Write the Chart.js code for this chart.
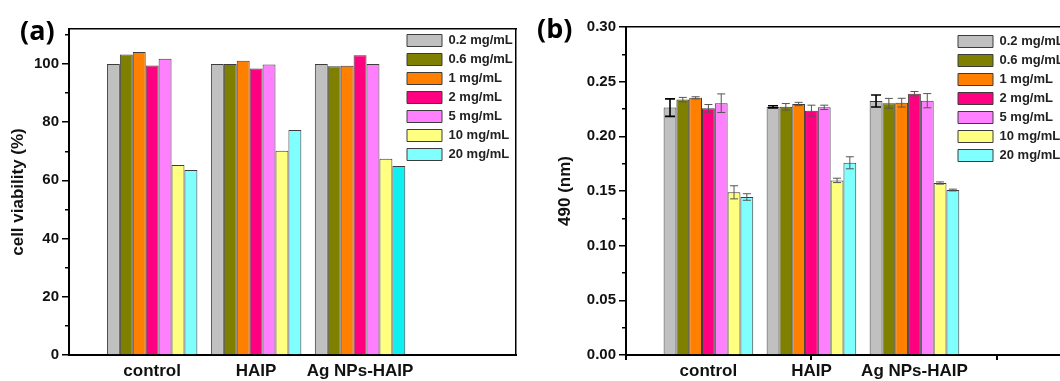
<!DOCTYPE html>
<html>
<head>
<meta charset="utf-8">
<title>Cell viability and MTT absorbance</title>
<script src="https://cdn.jsdelivr.net/npm/chart.js@4.4.1/dist/chart.umd.min.js"></script>
<style>
    html, body { margin: 0; padding: 0; background: #fff; overflow: hidden; }
    body { width: 1060px; height: 381px; position: relative; }
    canvas { position: absolute; top: 0; }
    #chartA { left: 0; }
    #chartB { left: 530px; }
    .panel-tag {
        position: absolute;
        font-family: 'Open Sans', sans-serif;
        font-weight: 700;
        font-size: 27px;
        line-height: 1;
        color: #000;
    }
</style>
</head>
<body>
<canvas id="chartA" width="530" height="381"></canvas>
<canvas id="chartB" width="560" height="381"></canvas>
<div class="panel-tag" style="left:20px; top:16px">(a)</div>
<div class="panel-tag" style="left:537px; top:14px">(b)</div>
<script>
// Samples along the x axis and the dose series
const groups = ['control', 'HAIP', 'Ag NPs-HAIP'];
const groupPositions = [1, 2, 3];
const doses = ['0.2 mg/mL', '0.6 mg/mL', '1 mg/mL', '2 mg/mL', '5 mg/mL', '10 mg/mL', '20 mg/mL'];
const doseColors = ['#c0c0c0', '#808000', '#ff8000', '#ff0080', '#ff80ff', '#ffff80', '#80ffff'];

// (a) cell viability (%), one row per dose, columns follow groups
const viability = [
    [100, 100, 100],
    [103.2, 100, 99.2],
    [104.1, 101.1, 99.4],
    [99.5, 98.4, 103.0],
    [101.8, 99.8, 100],
    [65.3, 70.2, 67.4],
    [63.6, 77.3, 64.9]
];

// (b) absorbance at 490 nm and its error, same layout
const absorbance = [
    [0.2263, 0.2270, 0.2323],
    [0.2336, 0.2270, 0.2302],
    [0.2352, 0.2296, 0.2308],
    [0.2256, 0.2235, 0.2390],
    [0.2303, 0.2265, 0.2326],
    [0.1488, 0.1597, 0.1573],
    [0.1445, 0.1758, 0.1509]
];
const absorbanceErr = [
    [0.0080, 0.0010, 0.0055],
    [0.0020, 0.0030, 0.0045],
    [0.0010, 0.0015, 0.0040],
    [0.0035, 0.0050, 0.0020],
    [0.0085, 0.0020, 0.0065],
    [0.0060, 0.0020, 0.0010],
    [0.0030, 0.0055, 0.0008]
];

// Axis ticks
const yTicksA = [0, 20, 40, 60, 80, 100];
const yMinorA = [10, 30, 50, 70, 90, 110];
const yTicksB = [0, 0.05, 0.10, 0.15, 0.20, 0.25, 0.30];
const yMinorB = [0.025, 0.075, 0.125, 0.175, 0.225, 0.275];
const xMajorB = [0.2, 2, 3.8];

Chart.defaults.font.family = "'Liberation Sans', Arial, sans-serif";
Chart.defaults.font.weight = 'bold';
Chart.defaults.color = '#111';

function buildDatasets(rows) {
    return rows.map((row, i) => ({
        label: doses[i],
        data: row.map((v, j) => ({ x: groupPositions[j], y: v })),
        backgroundColor: doseColors[i],
        borderColor: '#3c3c3c',
        borderWidth: 1,
        categoryPercentage: 0.87,
        barPercentage: 1,
        xAxisID: 'x',
        yAxisID: 'y'
    }));
}

// Moves the chartArea legend to the top right corner of the frame
function placeLegend(left, top) {
    return {
        id: 'placeLegend',
        beforeDraw(chart) {
            chart.legend.left = left;
            chart.legend.top = top;
        }
    };
}

// Vertical error bars drawn through the y scale
function makeErrorBars(errors) {
    return {
        id: 'errorBars',
        afterDatasetsDraw(chart) {
            const ctx = chart.ctx;
            const yScale = chart.scales.y;
            chart.data.datasets.forEach((ds, i) => {
                chart.getDatasetMeta(i).data.forEach((bar, j) => {
                    const value = ds.data[j].y;
                    const err = errors[i][j];
                    const top = yScale.getPixelForValue(value + err);
                    const bottom = yScale.getPixelForValue(value - err);
                    const half = i === 0 ? 5 : 4;
                    ctx.save();
                    ctx.strokeStyle = i === 0 ? '#000' : '#555';
                    ctx.lineWidth = i === 0 ? 1.6 : 1;
                    ctx.beginPath();
                    ctx.moveTo(bar.x, top);
                    ctx.lineTo(bar.x, bottom);
                    ctx.moveTo(bar.x - half, top);
                    ctx.lineTo(bar.x + half, top);
                    ctx.moveTo(bar.x - half, bottom);
                    ctx.lineTo(bar.x + half, bottom);
                    ctx.stroke();
                    ctx.restore();
                });
            });
        }
    };
}

const legendOptions = {
    position: 'chartArea',
    align: 'start',
    labels: {
        boxWidth: 35,
        boxHeight: 12,
        padding: 6,
        color: '#222',
        font: { size: 13, weight: 'bold' }
    }
};

function frameScales(opts) {
    return {
        x: {
            type: 'linear', axis: 'x', position: 'bottom', weight: 0,
            min: 0.2, max: 4.5, offset: false,
            afterBuildTicks: s => { s.ticks = groupPositions.map(v => ({ value: v })); },
            afterFit: s => { s.height = 26; },
            grid: { display: false, drawTicks: false, offset: false },
            border: { color: '#000', width: 2 },
            ticks: {
                autoSkip: false, maxRotation: 0, padding: 6, color: '#111',
                font: { size: 17, weight: 'bold' },
                callback: (v, i) => groups[i]
            }
        },
        xTop: {
            type: 'linear', axis: 'x', position: 'top', offset: false,
            afterFit: s => { s.height = 0; },
            grid: { display: false, drawTicks: false },
            ticks: { display: false },
            border: { color: '#000', width: 1.5 }
        },
        y: {
            type: 'linear', axis: 'y', position: 'left', weight: 0,
            min: opts.yMin, max: opts.yMax,
            afterBuildTicks: s => { s.ticks = opts.yTicks.map(v => ({ value: v })); },
            afterFit: s => { s.width = opts.yWidth; },
            grid: { drawOnChartArea: false, color: '#000', lineWidth: 1.5, tickLength: 7 },
            border: { color: '#000', width: 2 },
            ticks: {
                padding: 3, color: '#111',
                font: { size: 15, weight: 'bold' },
                callback: opts.yFormat
            },
            title: {
                display: true, text: opts.yTitle, color: '#111',
                font: { size: 17, weight: 'bold' },
                padding: { top: opts.titlePad, bottom: 0 }
            }
        },
        yMinor: {
            type: 'linear', axis: 'y', position: 'left', weight: -1,
            min: opts.yMin, max: opts.yMax,
            afterBuildTicks: s => { s.ticks = opts.yMinor.map(v => ({ value: v })); },
            afterFit: s => { s.width = 0; },
            grid: { drawOnChartArea: false, color: '#000', lineWidth: 1.5, tickLength: 4 },
            border: { display: false },
            ticks: { display: false }
        },
        yRight: {
            type: 'linear', axis: 'y', position: 'right',
            afterFit: s => { s.width = 0; },
            grid: { display: false, drawTicks: false },
            ticks: { display: false },
            border: { color: '#000', width: 1.5 }
        }
    };
}

// (a) cell viability
const datasetsA = buildDatasets(viability);
// the Ag NPs-HAIP 20 mg/mL bar is printed in a stronger cyan
datasetsA[6].backgroundColor = c => c.dataIndex === 2 ? '#10f0f0' : doseColors[6];

new Chart(document.getElementById('chartA'), {
    type: 'bar',
    data: { datasets: datasetsA },
    options: {
        responsive: false,
        animation: false,
        layout: { padding: { left: 0, right: 14, top: 29, bottom: 0 } },
        plugins: { legend: legendOptions, tooltip: { enabled: false } },
        scales: frameScales({
            yMin: 0, yMax: 112, yTicks: yTicksA, yMinor: yMinorA, yWidth: 69,
            yTitle: 'cell viability (%)', titlePad: 8,
            yFormat: v => String(v)
        })
    },
    plugins: [placeLegend(401, 28)]
});

// (b) absorbance at 490 nm
const scalesB = frameScales({
    yMin: 0, yMax: 0.30, yTicks: yTicksB, yMinor: yMinorB, yWidth: 96,
    yTitle: '490 (nm)', titlePad: 25,
    yFormat: v => v.toFixed(2)
});
scalesB.xMajor = {
    type: 'linear', axis: 'x', position: 'bottom', weight: -1,
    min: 0.2, max: 4.5, offset: false,
    afterBuildTicks: s => { s.ticks = xMajorB.map(v => ({ value: v })); },
    afterFit: s => { s.height = 0; },
    grid: { drawOnChartArea: false, offset: false, color: '#000', lineWidth: 2, tickLength: 5 },
    border: { display: false },
    ticks: { display: false }
};

new Chart(document.getElementById('chartB'), {
    type: 'bar',
    data: { datasets: buildDatasets(absorbance) },
    options: {
        responsive: false,
        animation: false,
        layout: { padding: { left: 0, right: 21, top: 27, bottom: 0 } },
        plugins: { legend: legendOptions, tooltip: { enabled: false } },
        scales: scalesB
    },
    plugins: [placeLegend(422, 29), makeErrorBars(absorbanceErr)]
});
</script>
</body>
</html>
